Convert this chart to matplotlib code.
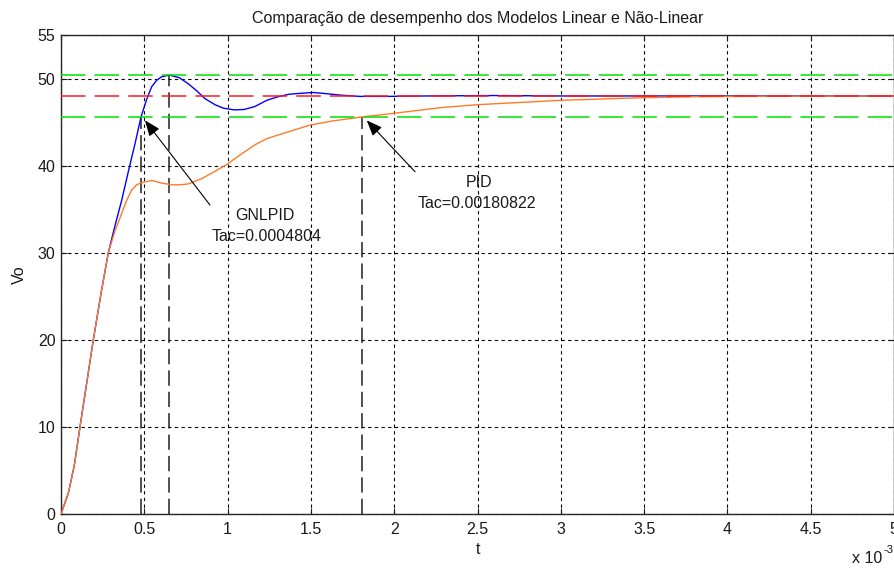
import numpy as np
import matplotlib
matplotlib.use("Agg")
import matplotlib.pyplot as plt

plt.rcParams['font.family'] = ['Liberation Sans', 'DejaVu Sans']

# Step responses (time in ms, output voltage Vo)
t_gnlpid = [0.0, 0.044, 0.08, 0.114, 0.154, 0.194, 0.24, 0.284, 0.324, 0.364,
            0.404, 0.444, 0.4804, 0.514, 0.544, 0.574, 0.604, 0.65, 0.71, 0.764,
            0.814, 0.864, 0.924, 0.974, 1.04, 1.10, 1.165, 1.235, 1.30, 1.37,
            1.434, 1.514, 1.60, 1.675, 1.795, 1.95, 2.2, 2.6, 3.0, 4.0, 5.0]
v_gnlpid = [0.0, 2.4, 5.6, 10.0, 15.0, 20.0, 25.3, 30.0, 33.1, 36.0,
            39.3, 42.5, 45.6, 47.6, 49.05, 49.8, 50.2, 50.4, 50.1, 49.4,
            48.6, 47.7, 47.0, 46.6, 46.4, 46.45, 46.8, 47.5, 47.9, 48.2,
            48.3, 48.4, 48.25, 48.1, 47.95, 47.95, 48.0, 48.05, 48.0, 48.0, 48.0]

t_pid = [0.0, 0.044, 0.08, 0.114, 0.154, 0.194, 0.24, 0.284, 0.324, 0.364,
         0.394, 0.424, 0.454, 0.484, 0.544, 0.604, 0.664, 0.714, 0.764, 0.844,
         0.92, 1.0, 1.08, 1.165, 1.235, 1.35, 1.495, 1.62, 1.80822, 1.995,
         2.275, 2.5, 3.0, 3.49, 3.775, 4.2, 5.0]
v_pid = [0.0, 2.4, 5.6, 10.0, 15.0, 20.0, 25.3, 30.0, 32.5, 34.5,
         36.0, 37.2, 37.8, 38.05, 38.3, 38.0, 37.8, 37.8, 37.9, 38.5,
         39.3, 40.2, 41.3, 42.4, 43.1, 43.8, 44.66, 45.1, 45.6, 46.0,
         46.65, 47.0, 47.5, 47.8, 47.9, 47.97, 48.0]

v_ref = 48.0
band = 0.05
tac_gnlpid = 0.0004804
tac_pid = 0.00180822

fig = plt.figure(figsize=(8.94, 5.68), dpi=100)
ax = fig.add_axes([61 / 894, 54 / 568, 833 / 894, 479 / 568])

tg = np.array(t_gnlpid) * 1e-3
vg = np.array(v_gnlpid)
tp = np.array(t_pid) * 1e-3
vp = np.array(v_pid)

ax.plot(tg, vg, color='#0000ff', lw=1.0, zorder=3)
ax.plot(tp, vp, color='#ff7a26', lw=1.0, zorder=4)

long_dash = (0, (16, 6))
ax.axhline(v_ref, color='#ff1a1a', lw=1.1, linestyle=long_dash, zorder=5)
ax.axhline(v_ref * (1 + band), color='#00e000', lw=1.1, linestyle=long_dash, zorder=5)
ax.axhline(v_ref * (1 - band), color='#00e000', lw=1.1, linestyle=long_dash, zorder=5)

# Settling-time and peak-time markers
vdash = (0, (10, 4))
ipk = int(np.argmax(vg))
ax.plot([tac_gnlpid, tac_gnlpid], [0, v_ref * (1 - band)], color='#202020', lw=1.1,
        linestyle=vdash, zorder=2)
ax.plot([tg[ipk], tg[ipk]], [0, v_ref * (1 + band)], color='#202020', lw=1.1,
        linestyle=vdash, zorder=2)
ax.plot([tac_pid, tac_pid], [0, v_ref * (1 - band)], color='#202020', lw=1.1,
        linestyle=vdash, zorder=2)

arrow = dict(arrowstyle='-|>,head_length=0.8,head_width=0.32', color='k', lw=0.8,
             shrinkA=0, shrinkB=0, mutation_scale=12)
ax.annotate('', xy=(0.504e-3, 45.2), xytext=(0.894e-3, 35.48), arrowprops=arrow, zorder=6)
ax.annotate('', xy=(1.835e-3, 45.2), xytext=(2.125e-3, 39.3), arrowprops=arrow, zorder=6)

fs = 11.5
tc = '#1a1a1a'
ax.text(1.2245e-3, 34.33, 'GNLPID', ha='center', va='center', fontsize=fs, color=tc)
ax.text(1.236e-3, 31.9, 'Tac=0.0004804', ha='center', va='center', fontsize=fs, color=tc)
ax.text(2.509e-3, 38.1, 'PID', ha='center', va='center', fontsize=fs, color=tc)
ax.text(2.497e-3, 35.7, 'Tac=0.00180822', ha='center', va='center', fontsize=fs, color=tc)

ax.set_xlim(0, 5e-3)
ax.set_ylim(0, 55)
xt = np.arange(0, 5.01, 0.5)
ax.set_xticks(xt * 1e-3)
ax.set_xticklabels([f'{v:g}' for v in xt])
ax.set_yticks([0, 10, 20, 30, 40, 50, 55])

ax.grid(True, color='k', linestyle=(0, (3, 3)), linewidth=0.8)
ax.set_axisbelow(True)
ax.tick_params(direction='in', length=4, width=0.8, top=True, right=True,
               labelsize=fs, colors=tc, pad=4)
ax.tick_params(axis='x', pad=6)
for s in ax.spines.values():
    s.set_color('#262626')
    s.set_linewidth(1.0)

ax.set_xlabel('t', fontsize=fs, labelpad=3, color=tc)
ax.set_ylabel('Vo', fontsize=fs, labelpad=8, color=tc)
ax.set_title('Comparação de desempenho dos Modelos Linear e Não-Linear', fontsize=fs,
             pad=9, color=tc)
fig.text(852 / 894, 1 - 563 / 568, 'x 10', fontsize=fs, ha='left', va='baseline', color=tc)
fig.text(884 / 894, 1 - 553 / 568, '-3', fontsize=fs * 0.7, ha='left', va='baseline', color=tc)

fig.savefig('out.png', dpi=100)
